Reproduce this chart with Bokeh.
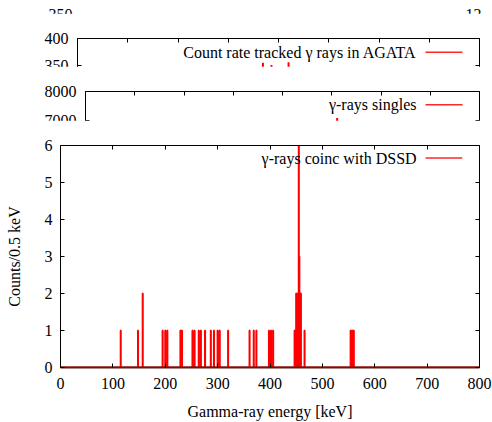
from bokeh.plotting import figure
from bokeh.models import Range1d, LinearAxis, FixedTicker, Label, BoxAnnotation
from bokeh.embed import file_html
from bokeh.resources import INLINE

FONT = "Liberation Serif"
FS = "16px"

# ---------------- data ----------------
x_ticks = [0, 100, 200, 300, 400, 500, 600, 700, 800]

# main panel: gamma rays in coincidence with DSSD (counts per 0.5 keV bin)
coinc_energy = [115, 148, 157, 195, 200, 204, 229, 232, 252, 256, 264, 268, 276,
                287, 293, 300, 304, 320, 361, 369, 374, 398, 402, 406, 447, 450,
                452, 454, 455, 456, 458, 459, 466, 554, 557, 560]
coinc_counts = [1, 1, 2, 1, 1, 1, 1, 1, 1, 1, 1, 1, 1,
                1, 1, 1, 1, 1, 1, 1, 1, 1, 1, 1, 1, 2,
                2, 2, 6, 3, 2, 2, 1, 1, 1, 1]
main_yticks = [0, 1, 2, 3, 4, 5, 6]

# panel: count rate tracked gamma rays in AGATA (only the peaks above 350 are visible)
agata_energy = [369, 386, 420]
agata_rate = [355, 351, 356]
agata_yticks = [350, 400]

# panel: gamma-ray singles (only the 511 keV peak reaches above 7000)
singles_energy = [511]
singles_counts = [7090]
singles_yticks = [7000, 8000]

# panel hidden underneath, only its tick labels peek out at the top
top_left_ticks = [350]
top_right_ticks = [12]

legend_agata = "Count rate tracked \u03b3 rays in AGATA"
legend_singles = "\u03b3-rays singles"
legend_coinc = "\u03b3-rays coinc with DSSD"


def style_axis(ax, ticks, labels=True, line=True, tick=True, standoff=8):
    ax.ticker = FixedTicker(ticks=ticks)
    ax.major_tick_in = 4 if tick else 0
    ax.major_tick_out = 0
    ax.major_tick_line_color = "black" if tick else None
    ax.minor_tick_line_color = None
    ax.axis_line_color = "black" if line else None
    ax.axis_line_width = 1
    ax.major_label_text_font = FONT
    ax.major_label_text_font_size = FS
    ax.major_label_text_color = "black"
    ax.major_label_standoff = standoff
    if not labels:
        ax.major_label_overrides = {t: "" for t in ticks}
        ax.major_label_text_color = None
        ax.major_label_standoff = 0
    ax.axis_label_text_font = FONT
    ax.axis_label_text_font_size = FS
    ax.axis_label_text_font_style = "normal"
    ax.axis_label_text_color = "black"


def base_fig(height, yr, left, right, top, bottom, xaxis=False, overlap=0):
    f = figure(width=492, height=height, x_range=Range1d(0, 800), y_range=yr,
               title=None, toolbar_location=None, output_backend="svg",
               x_axis_location="below" if xaxis else None, y_axis_location=None,
               min_border_left=left, min_border_right=right,
               min_border_top=top, min_border_bottom=bottom)
    f.outline_line_color = None
    f.xgrid.visible = False
    f.ygrid.visible = False
    f.background_fill_color = "white"
    f.border_fill_color = "white"
    st = {"position": "relative"}
    if overlap:
        st["margin-top"] = "-%dpx" % overlap
    f.styles = st
    return f


# ---------------- hidden panel at the very top (mostly covered) ----------------
s = base_fig(30, Range1d(333.5, 363.5), 80, 35, 0, 0)
s.extra_y_ranges = {"y2": Range1d(-4.5, 25.5)}
la = LinearAxis()
style_axis(la, top_left_ticks, labels=True, line=False, tick=False, standoff=8)
s.add_layout(la, "left")
ra = LinearAxis(y_range_name="y2")
style_axis(ra, top_right_ticks, labels=True, line=False, tick=False, standoff=8)
s.add_layout(ra, "right")

# ---------------- AGATA panel (bottom part covered by next panel) ----------------
a = base_fig(70, Range1d(316.67, 400), 77, 13, 25, 0, overlap=17)
ax = LinearAxis(); style_axis(ax, agata_yticks, labels=True, standoff=9); a.add_layout(ax, "left")
ax = LinearAxis(); style_axis(ax, agata_yticks, labels=False); a.add_layout(ax, "right")
ax = LinearAxis(); style_axis(ax, x_ticks, labels=False); a.add_layout(ax, "above")
a.segment(x0=agata_energy, y0=[0] * len(agata_energy), x1=agata_energy, y1=agata_rate,
          line_color="red", line_width=2)
a.add_layout(Label(x=674.6, y=374.6, text=legend_agata, text_align="right",
                   text_baseline="middle", text_font=FONT, text_font_size=FS,
                   text_color="black"))
a.add_layout(BoxAnnotation(left=692.5, right=766, bottom=373.3, top=375.9,
                           fill_color="red", fill_alpha=0.85, line_alpha=0))

# ---------------- singles panel (bottom part covered by main panel) ----------------
b = base_fig(72, Range1d(6379.3, 8000), 85, 13, 25, 0, overlap=17)
ax = LinearAxis(); style_axis(ax, singles_yticks, labels=True, standoff=9); b.add_layout(ax, "left")
ax = LinearAxis(); style_axis(ax, singles_yticks, labels=False); b.add_layout(ax, "right")
ax = LinearAxis(); style_axis(ax, x_ticks, labels=False); b.add_layout(ax, "above")
b.segment(x0=singles_energy, y0=[0] * len(singles_energy), x1=singles_energy, y1=singles_counts,
          line_color="red", line_width=2)
b.add_layout(Label(x=672, y=7541, text=legend_singles, text_align="right",
                   text_baseline="middle", text_font=FONT, text_font_size=FS,
                   text_color="black"))
b.add_layout(BoxAnnotation(left=690.4, right=765.6, bottom=7515, top=7567,
                           fill_color="red", fill_alpha=0.85, line_alpha=0))

# ---------------- main panel ----------------
p = base_fig(302, Range1d(0, 6), 60, 13, 25, 55, xaxis=True, overlap=18)
xb = p.xaxis[0]
style_axis(xb, x_ticks, labels=True, standoff=10)
xb.axis_label = "Gamma-ray energy [keV]"
xb.axis_label_standoff = 11
xb.axis_line_color = "#5c1c14"
xb.axis_line_width = 2
yl = LinearAxis()
style_axis(yl, main_yticks, labels=True, standoff=8)
yl.axis_label = "Counts/0.5 keV"
yl.axis_label_standoff = 19
p.add_layout(yl, "left")
ax = LinearAxis(); style_axis(ax, main_yticks, labels=False); p.add_layout(ax, "right")
ax = LinearAxis(); style_axis(ax, x_ticks, labels=False); p.add_layout(ax, "above")

hx = [0.0]
hy = [0]
for e, c in zip(coinc_energy, coinc_counts):
    hx += [e - 0.25, e - 0.25, e + 0.25, e + 0.25]
    hy += [0, c, c, 0]
hx.append(800.0)
hy.append(0)
p.line(hx, hy, line_color="red", line_width=1.8)

p.add_layout(Label(x=680, y=5.66, text=legend_coinc, text_align="right",
                   text_baseline="middle", text_font=FONT, text_font_size=FS,
                   text_color="black"))
p.add_layout(BoxAnnotation(left=697, right=767, bottom=5.64, top=5.68,
                           fill_color="red", fill_alpha=0.85, line_alpha=0))

# separate roots stacked vertically; each later panel overlaps the one above,
# like a gnuplot multiplot
open("out.html", "w").write(file_html([s, a, b, p], INLINE))
